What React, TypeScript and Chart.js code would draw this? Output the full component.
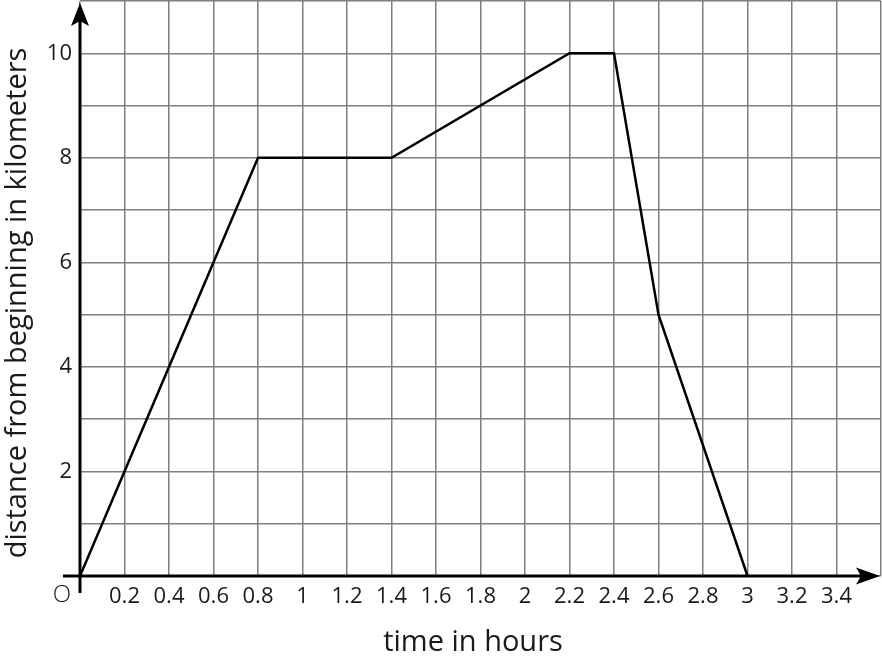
import React, { useEffect, useRef } from "react";
import { Chart, registerables } from "chart.js";

Chart.register(...registerables);

const timeHours = [0, 0.8, 1.4, 2.2, 2.4, 2.6, 3];
const distanceKm = [0, 8, 8, 10, 10, 5, 0];
const xTitle = "time in hours";
const yTitle = "distance from beginning in kilometers";
const yLabeled = [2, 4, 6, 8, 10];
const originLabel = "O";

const FONT = "'Open Sans', 'Noto Sans', sans-serif";

const axesPlugin = {
  id: "axesArrows",
  afterDraw(chart: any) {
    const ctx = chart.ctx;
    const xs = chart.scales.x;
    const ys = chart.scales.y;
    const x0 = xs.getPixelForValue(0);
    const y0 = ys.getPixelForValue(0);
    ctx.save();
    ctx.strokeStyle = "#000";
    ctx.fillStyle = "#000";
    ctx.lineWidth = 3;
    // y axis
    ctx.beginPath();
    ctx.moveTo(x0, y0 + 17);
    ctx.lineTo(x0, 20);
    ctx.stroke();
    ctx.beginPath();
    ctx.moveTo(x0, 3);
    ctx.lineTo(x0 - 9, 26);
    ctx.lineTo(x0, 21);
    ctx.lineTo(x0 + 9, 26);
    ctx.closePath();
    ctx.fill();
    // x axis
    ctx.beginPath();
    ctx.moveTo(x0 - 17, y0);
    ctx.lineTo(862, y0);
    ctx.stroke();
    ctx.beginPath();
    ctx.moveTo(880, y0);
    ctx.lineTo(856, y0 - 8.5);
    ctx.lineTo(861, y0);
    ctx.lineTo(856, y0 + 8.5);
    ctx.closePath();
    ctx.fill();
    // origin label
    ctx.font = `300 24px ${FONT}`;
    ctx.textAlign = "center";
    ctx.textBaseline = "middle";
    ctx.fillStyle = "#222";
    ctx.fillText(originLabel, x0 - 18, y0 + 19);
    // titles
    ctx.fillStyle = "#1a1a1a";
    ctx.font = `29px ${FONT}`;
    ctx.fillText(xTitle, 473, 643);
    ctx.translate(18, 303);
    ctx.rotate(-Math.PI / 2);
    ctx.fillText(yTitle, 0, 0);
    ctx.restore();
  },
};

export default function App() {
  const ref = useRef<HTMLCanvasElement>(null);
  useEffect(() => {
    document.body.style.margin = "0";
    const chart = new Chart(ref.current as HTMLCanvasElement, {
      type: "line",
      data: {
        datasets: [
          {
            data: timeHours.map((t, i) => ({ x: t, y: distanceKm[i] })),
            borderColor: "#000",
            borderWidth: 2.5,
            pointRadius: 0,
            tension: 0,
            fill: false,
          },
        ],
      },
      options: {
        animation: false,
        responsive: false,
        layout: { padding: { top: 1, right: 1, left: 0, bottom: 0 } },
        plugins: { legend: { display: false }, tooltip: { enabled: false } },
        scales: {
          x: {
            type: "linear",
            min: 0,
            max: 3.6,
            afterFit: (s: any) => {
              s.height = 88;
              s.paddingLeft = 0;
              s.paddingRight = 0;
            },
            border: { display: false },
            grid: { color: "#7f7f7f", lineWidth: 1.5, drawTicks: false },
            ticks: {
              stepSize: 0.2,
              padding: 8,
              maxRotation: 0,
              autoSkip: false,
              color: "#1a1a1a",
              font: { family: FONT, size: 22 },
              callback: (v: any) => {
                const n = Math.round(Number(v) * 10) / 10;
                if (n === 0 || n >= 3.6) return "";
                return Number.isInteger(n) ? String(n) : n.toFixed(1);
              },
            },
          },
          y: {
            type: "linear",
            min: 0,
            max: 11,
            afterFit: (s: any) => {
              s.width = 80;
              s.paddingTop = 0;
              s.paddingBottom = 0;
            },
            border: { display: false },
            grid: { color: "#7f7f7f", lineWidth: 1.5, drawTicks: false },
            ticks: {
              stepSize: 1,
              padding: 8,
              autoSkip: false,
              color: "#1a1a1a",
              font: { family: FONT, size: 22 },
              callback: (v: any) => (yLabeled.includes(Number(v)) ? String(v) : ""),
            },
          },
        },
      },
      plugins: [axesPlugin],
    });
    return () => chart.destroy();
  }, []);
  return (
    <div style={{ position: "absolute", left: 0, top: 0, width: 882, height: 664 }}>
      <canvas ref={ref} width={882} height={664} />
    </div>
  );
}
